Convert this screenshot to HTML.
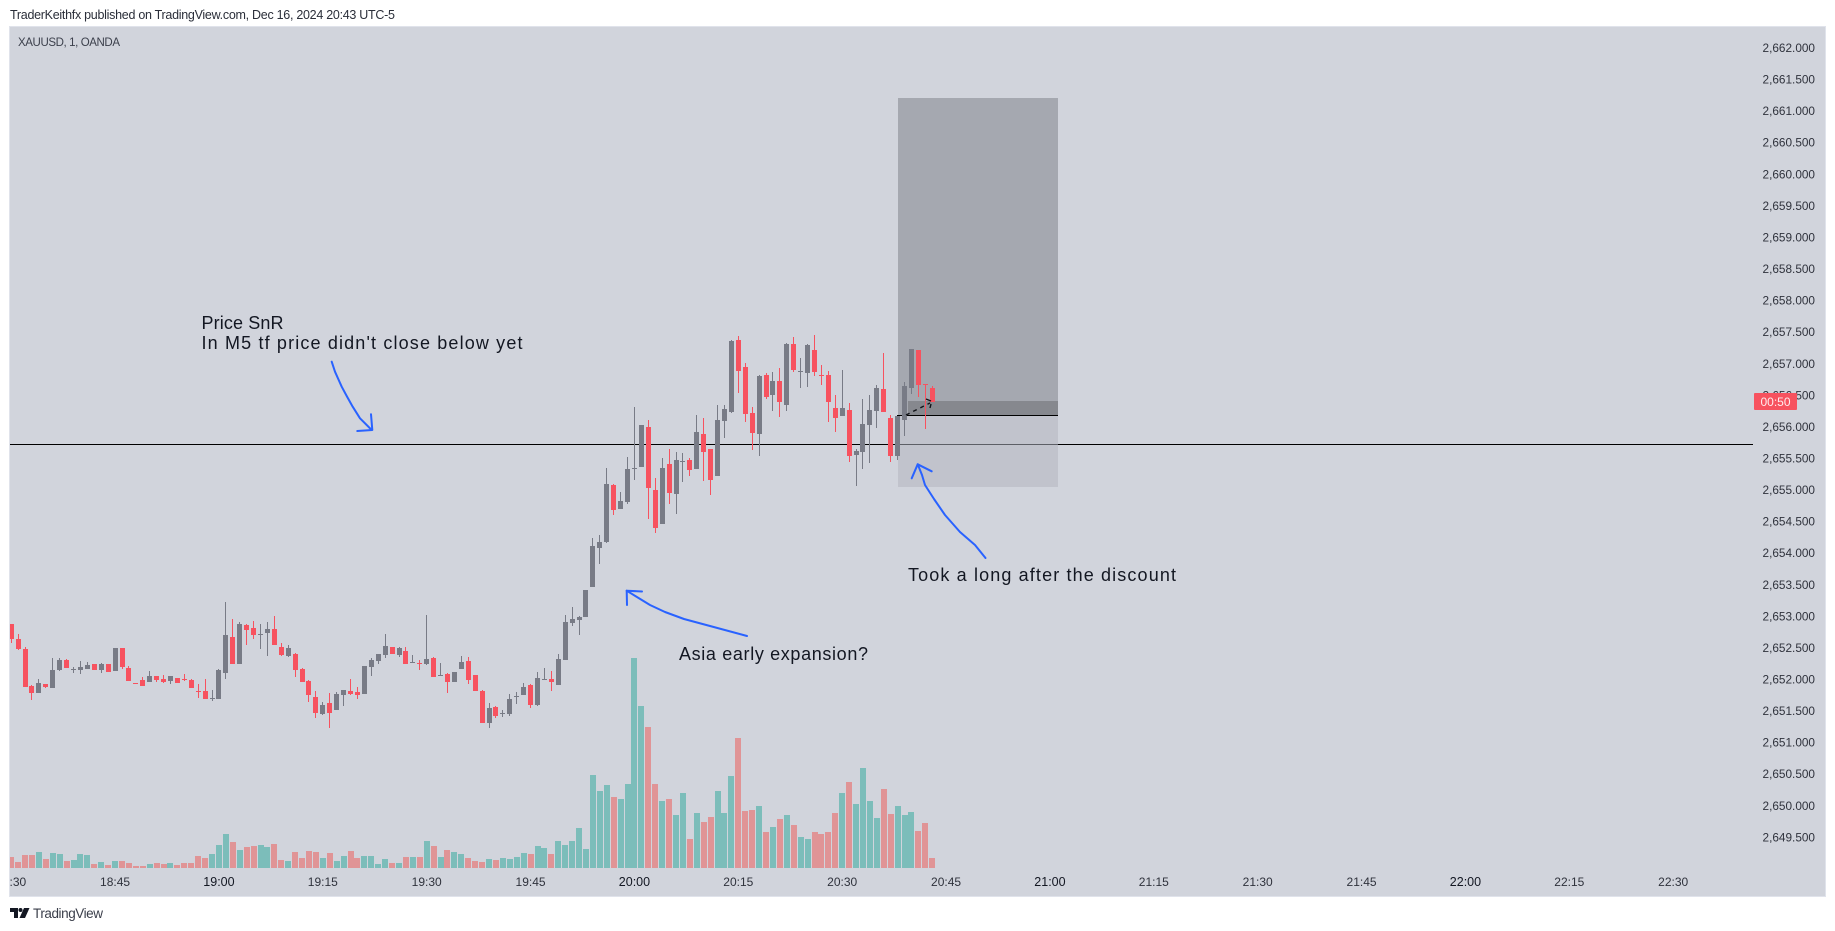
<!DOCTYPE html>
<html lang="en">
<head>
<meta charset="utf-8">
<title>XAUUSD 1m chart</title>
<style>
html,body{margin:0;padding:0;background:#fff;width:1835px;height:931px;overflow:hidden}
svg{display:block;font-family:"Liberation Sans",sans-serif}
</style>
</head>
<body>
<svg id="chart" xmlns="http://www.w3.org/2000/svg" width="1835" height="931" viewBox="0 0 1835 931">
  <defs><clipPath id="pane-clip"><rect x="10" y="27" width="1815" height="869"/></clipPath></defs>
  <rect x="0" y="0" width="1835" height="931" fill="#ffffff"/>
  <text x="10" y="19" font-size="12.5" fill="#2a2e39" textLength="385" lengthAdjust="spacing">TraderKeithfx published on TradingView.com, Dec 16, 2024 20:43 UTC-5</text>
  <rect x="9.5" y="26.5" width="1816" height="870" fill="#d1d4dc" stroke="#e0e3eb"/>
  <text x="18" y="46" font-size="11.5" fill="#3c404c" textLength="102" lengthAdjust="spacing">XAUUSD, 1, OANDA</text>

  <g>
    <rect x="898" y="98" width="160" height="303" fill="#a5a8b0"/>
    <rect x="898" y="401" width="10" height="14" fill="#a5a8b0"/>
    <rect x="908" y="401" width="150" height="14" fill="#86888e"/>
    <rect x="898" y="415" width="160" height="72" fill="#c1c3cc"/>
    <rect x="897" y="415" width="161" height="1" fill="#000000"/>
  </g>
  <g>
    <rect x="10" y="444" width="1743" height="1" fill="#000000"/>
    <rect x="898" y="444" width="160" height="1" fill="#5d5f66"/>
  </g>

  <g id="volume-layer" clip-path="url(#pane-clip)"></g>
  <g id="candle-layer" clip-path="url(#pane-clip)"></g>

  <g fill="none" stroke="#111318" stroke-width="1.4">
    <line x1="906" y1="415" x2="930" y2="403" stroke-dasharray="4 4"/>
    <line x1="926" y1="399" x2="931" y2="401"/>
    <line x1="931" y1="404" x2="930" y2="408"/>
  </g>

  <g fill="none" stroke="#2962ff" stroke-width="2" stroke-linejoin="round" stroke-linecap="round">
    <polyline points="331.7,361.7 335,371.7 341.7,386.7 346.7,396 352.7,406.7 360,418.3 371.7,430"/>
    <polyline points="371,414.3 372.3,430 357.3,431"/>
    <polyline points="747,636 710,626 684,619 665,612 650,605 626.7,590.7"/>
    <polyline points="642,591.5 626.7,590.7 627,605"/>
    <polyline points="917.7,464.3 922,475 925,485 934,499 945,515 960,532 975,545 985.5,558"/>
    <polyline points="911.7,478.3 917.7,464.3 931.7,471.3"/>
  </g>

  <g fill="#131722" font-size="18">
    <text x="201.5" y="329" textLength="82" lengthAdjust="spacing">Price SnR</text>
    <text x="201.5" y="349" textLength="321" lengthAdjust="spacing">In M5 tf price didn't close below yet</text>
    <text x="679" y="660" textLength="189" lengthAdjust="spacing">Asia early expansion?</text>
    <text x="908" y="581" textLength="268" lengthAdjust="spacing">Took a long after the discount</text>
  </g>

  <g id="price-axis"></g>
  <g id="time-axis" clip-path="url(#pane-clip)"></g>

  <g>
    <rect x="1754" y="393" width="43" height="17" rx="1" fill="#f7525f"/>
    <text x="1775.5" y="406" font-size="12" text-anchor="middle" fill="#ffecee">00:50</text>
  </g>

  <g>
    <polygon points="10,908 18,908 18,918 14,918 14,912 10,912" fill="#131722"/>
    <circle cx="20.5" cy="910" r="2" fill="#131722"/>
    <polygon points="24,908 29.5,908 25,918 19.5,918" fill="#131722"/>
    <text x="33" y="918" font-size="13.5" fill="#3a3e4a" textLength="70" lengthAdjust="spacing">TradingView</text>
  </g>
</svg>
<script>
const opens = [
2652.87,2652.64,2652.48,2651.89,2651.78,2651.92,2651.86,2652.14,2652.30,2652.15,
2652.14,2652.16,2652.24,2652.14,2652.24,2652.13,2652.49,2652.17,2651.94,2651.99,
2651.95,2652.05,2652.00,2651.97,2652.02,2652.00,2651.99,2651.81,2651.81,2651.69,
2651.68,2652.10,2652.67,2652.24,2652.86,2652.81,2652.71,2652.73,2652.79,2652.51,
2652.37,2652.40,2652.16,2651.97,2651.72,2651.45,2651.62,2651.51,2651.75,2651.81,
2651.80,2651.76,2652.19,2652.29,2652.38,2652.51,2652.38,2652.45,2652.26,2652.25,
2652.24,2652.33,2652.05,2652.08,2651.95,2652.16,2652.29,2652.06,2651.81,2651.31,
2651.56,2651.45,2651.45,2651.72,2651.75,2651.91,2651.59,2651.99,2652.00,2651.91,
2652.30,2652.89,2652.94,2652.98,2653.46,2654.08,2654.17,2655.07,2654.69,2654.81,
2655.34,2655.36,2655.99,2655.00,2654.46,2655.41,2654.93,2655.44,2655.47,2655.33,
2655.88,2655.64,2655.22,2656.09,2656.23,2657.37,2656.95,2656.22,2655.88,2656.82,
2656.50,2656.72,2656.34,2657.31,2656.87,2656.85,2657.22,2656.82,2656.82,2656.30,
2656.17,2656.27,2655.55,2655.60,2656.03,2656.25,2656.60,2656.14,2655.54,2656.11,
2656.61,2657.22,2656.67,2656.61];
const highs = [
2652.87,2652.72,2652.51,2651.91,2652.00,2651.92,2652.33,2652.33,2652.32,2652.19,
2652.29,2652.27,2652.24,2652.25,2652.24,2652.49,2652.49,2652.21,2651.94,2652.03,
2652.13,2652.05,2652.06,2652.05,2652.02,2652.08,2652.00,2651.92,2652.00,2651.83,
2652.16,2653.22,2652.95,2652.90,2652.87,2652.92,2652.87,2652.90,2653.00,2652.57,
2652.54,2652.41,2652.17,2651.99,2651.81,2651.64,2651.78,2651.80,2651.83,2652.00,
2651.88,2652.21,2652.33,2652.40,2652.72,2652.51,2652.51,2652.51,2652.38,2652.30,
2653.02,2652.35,2652.25,2652.10,2652.11,2652.37,2652.35,2652.06,2651.83,2651.62,
2651.57,2651.51,2651.76,2651.80,2651.94,2651.92,2652.11,2652.17,2652.13,2652.40,
2653.02,2653.14,2653.00,2653.41,2654.24,2654.28,2655.34,2655.09,2654.96,2655.52,
2656.31,2656.02,2656.10,2655.19,2655.50,2655.64,2655.60,2655.58,2655.50,2656.18,
2656.14,2655.64,2656.34,2656.34,2657.37,2657.44,2657.01,2656.31,2656.82,2656.85,
2656.87,2656.93,2657.33,2657.42,2657.09,2657.31,2657.45,2656.98,2656.88,2656.50,
2656.90,2656.38,2655.65,2656.44,2656.50,2656.66,2657.17,2656.19,2656.17,2656.71,
2657.23,2657.22,2656.67,2656.65];
const lows = [
2652.57,2652.46,2651.88,2651.67,2651.78,2651.86,2651.86,2652.13,2652.17,2652.10,
2652.08,2652.16,2652.14,2652.10,2652.11,2652.13,2652.16,2651.97,2651.93,2651.89,
2651.95,2651.95,2651.94,2651.92,2651.94,2651.97,2651.86,2651.70,2651.68,2651.65,
2651.68,2652.00,2652.24,2652.24,2652.54,2652.64,2652.48,2652.37,2652.54,2652.37,
2652.35,2652.03,2651.95,2651.64,2651.38,2651.43,2651.23,2651.51,2651.57,2651.75,
2651.68,2651.76,2652.05,2652.24,2652.33,2652.40,2652.35,2652.24,2652.25,2652.14,
2652.22,2652.03,2652.05,2651.78,2651.95,2652.16,2651.92,2651.81,2651.31,2651.23,
2651.38,2651.40,2651.42,2651.61,2651.75,2651.54,2651.57,2651.99,2651.81,2651.91,
2652.30,2652.84,2652.70,2652.98,2653.46,2653.82,2654.16,2654.60,2654.69,2654.77,
2655.15,2655.36,2654.54,2654.31,2654.46,2654.77,2654.62,2655.12,2655.22,2655.33,
2655.14,2654.92,2655.22,2655.82,2656.22,2656.53,2656.07,2655.63,2655.54,2656.44,
2656.25,2656.15,2656.25,2656.87,2656.61,2656.63,2656.80,2656.66,2656.07,2655.92,
2656.17,2655.44,2655.06,2655.33,2655.43,2655.98,2656.23,2655.44,2655.47,2655.85,
2656.52,2656.47,2655.96,2656.39];
const closes = [
2652.64,2652.48,2651.88,2651.78,2651.94,2651.88,2652.14,2652.30,2652.17,2652.16,
2652.19,2652.22,2652.14,2652.24,2652.11,2652.49,2652.19,2651.97,2651.93,2651.89,
2652.05,2651.99,2651.95,2652.05,2651.94,2651.99,2651.86,2651.80,2651.68,2651.70,
2652.14,2652.70,2652.24,2652.87,2652.78,2652.70,2652.72,2652.79,2652.54,2652.38,
2652.49,2652.14,2651.95,2651.75,2651.46,2651.59,2651.46,2651.76,2651.83,2651.76,
2651.75,2652.21,2652.30,2652.40,2652.53,2652.40,2652.49,2652.24,2652.27,2652.24,
2652.32,2652.03,2652.06,2651.95,2652.11,2652.27,2651.99,2651.81,2651.31,2651.54,
2651.42,2651.46,2651.68,2651.73,2651.88,2651.59,2652.02,2652.00,2651.95,2652.32,
2652.90,2652.95,2652.98,2653.41,2654.11,2654.17,2655.09,2654.68,2654.82,2655.33,
2655.35,2656.02,2655.03,2654.39,2655.34,2654.95,2655.47,2655.45,2655.31,2655.91,
2655.60,2655.15,2656.10,2656.28,2657.36,2656.88,2656.20,2655.90,2656.80,2656.47,
2656.72,2656.39,2657.31,2656.90,2656.88,2657.29,2656.87,2656.81,2656.39,2656.14,
2656.30,2655.54,2655.62,2656.04,2656.27,2656.61,2656.23,2655.54,2656.17,2656.65,
2657.23,2656.66,2656.66,2656.39];
const volumes = [
11,6,13,13,16,9,15,14,7,8,
14,13,4,6,3,7,7,5,2,2,
4,5,4,5,3,5,5,12,10,14,
23,34,26,18,21,22,23,21,24,8,
7,16,10,17,16,10,15,7,12,17,
10,12,12,4,9,5,5,11,11,11,
27,22,11,18,16,14,10,7,6,9,
8,10,9,11,15,14,22,20,14,27,
23,27,40,19,93,77,83,71,69,84,
210,162,141,84,67,69,53,75,29,55,
46,51,77,55,92,130,57,58,62,36,
41,49,53,43,31,29,36,34,36,55,
75,86,64,100,67,50,79,54,62,53,
56,37,45,10];
const priceTicks = [2662,2661.5,2661,2660.5,2660,2659.5,2659,2658.5,2658,2657.5,2657,2656.5,2656,2655.5,2655,2654.5,2654,2653.5,2653,2652.5,2652,2651.5,2651,2650.5,2650,2649.5];
const timeTicks = ['18:30','18:45','19:00','19:15','19:30','19:45','20:00','20:15','20:30','20:45','21:00','21:15','21:30','21:45','22:00','22:15','22:30'];

const SVG_NS = 'http://www.w3.org/2000/svg';
function yAt(price){ return 47.7 + (2662 - price) * 63.15; }
function xAt(minute){ return 11.2 + 6.925 * minute; }
function volumeHeight(v){ return v * 210 / 210; }
function minutesFrom(label){
  const parts = label.split(':');
  return (Number(parts[0]) - 18) * 60 + Number(parts[1]) - 30;
}
function rect(parent, x, y, w, h, fill){
  const el = document.createElementNS(SVG_NS, 'rect');
  el.setAttribute('x', x);
  el.setAttribute('y', y);
  el.setAttribute('width', w);
  el.setAttribute('height', h);
  el.setAttribute('fill', fill);
  parent.appendChild(el);
  return el;
}

const volumeLayer = document.getElementById('volume-layer');
volumes.forEach(function(v, i){
  const up = closes[i] >= opens[i];
  const left = Math.round(xAt(i) - 3);
  const h = Math.max(1, Math.round(volumeHeight(v)));
  const bar = rect(volumeLayer, left, 868 - h, 6, h, up ? '#7cbdba' : '#e09496');
  
  
});

const candleLayer = document.getElementById('candle-layer');
opens.forEach(function(o, i){
  const c = closes[i];
  const up = c >= o;
  const color = up ? '#787b86' : '#f7525f';
  const left = Math.round(xAt(i) - 2.5);
  const wickTop = Math.round(yAt(highs[i]));
  const wickBottom = Math.round(yAt(lows[i]));
  const bodyTop = Math.round(yAt(Math.max(o, c)));
  const bodyBottom = Math.round(yAt(Math.min(o, c)));
  const wick = rect(candleLayer, left + 2, wickTop, 1, Math.max(1, wickBottom - wickTop), color);
  
  
  const body = rect(candleLayer, left, bodyTop, 5, Math.max(1, bodyBottom - bodyTop), color);
  
  
});

const priceAxis = document.getElementById('price-axis');
priceTicks.forEach(function(p){
  const t = document.createElementNS(SVG_NS, 'text');
  
  
  t.setAttribute('x', 1815);
  t.setAttribute('y', yAt(p) + 4.3);
  t.setAttribute('font-size', '11.8');
  t.setAttribute('text-anchor', 'end');
  t.setAttribute('fill', '#2f323c');
  t.textContent = p.toLocaleString('en-US', {minimumFractionDigits: 3, maximumFractionDigits: 3});
  priceAxis.appendChild(t);
});

const timeAxis = document.getElementById('time-axis');
timeTicks.forEach(function(label){
  const t = document.createElementNS(SVG_NS, 'text');
  
  
  t.setAttribute('x', xAt(minutesFrom(label)));
  t.setAttribute('y', 886);
  t.setAttribute('font-size', label.endsWith(':00') ? '12.5' : '12');
  t.setAttribute('text-anchor', 'middle');
  t.setAttribute('fill', label.endsWith(':00') ? '#131722' : '#2f323c');
  t.textContent = label;
  timeAxis.appendChild(t);
});
</script>
</body>
</html>
